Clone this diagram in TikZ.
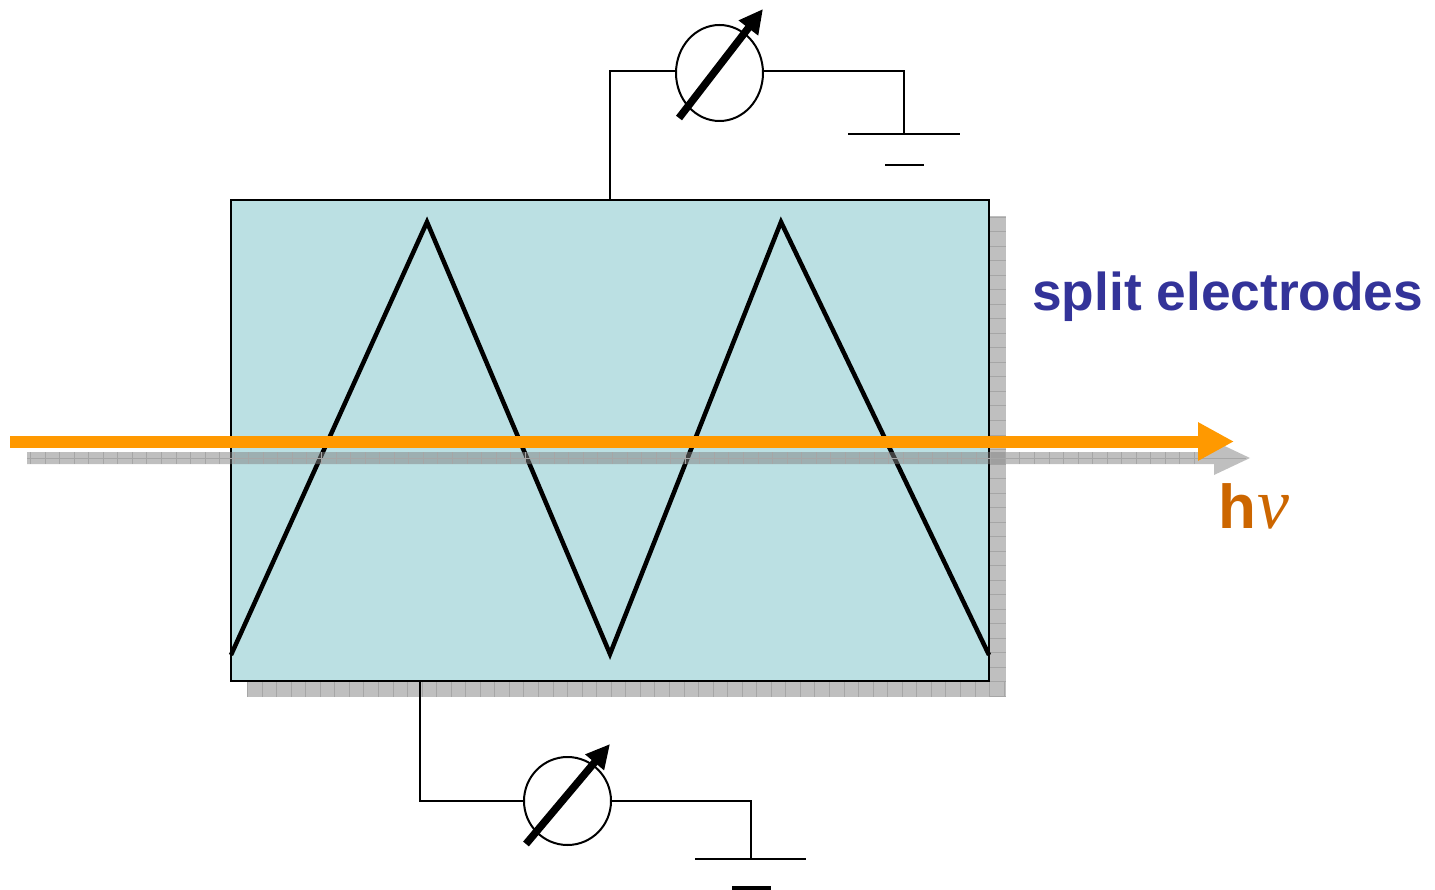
\documentclass[tikz,border=0pt]{standalone}
\usepackage{fontspec}
\setmainfont{Liberation Sans}
\newfontfamily\nufont{Liberation Serif}
\usetikzlibrary{arrows.meta,shapes.geometric}
\definecolor{cellblue}{HTML}{BBE0E3}
\definecolor{shadowgray}{HTML}{BFBFBF}
\definecolor{gridgray}{HTML}{A6A6A6}
\definecolor{beamorange}{HTML}{FF9900}
\definecolor{nuorange}{HTML}{CC6600}
\definecolor{labelblue}{HTML}{333399}
\tikzset{
  x=1pt,y=-1pt,
  wire/.style={draw=black,line width=2pt,line join=miter},
  gnd/.style={draw=black,line width=2pt},
  meter/.style={ellipse,draw=black,line width=2pt,fill=white,inner sep=0pt,minimum width=87pt},
  needle/.style={draw=black,line width=7.5pt,-{Triangle[length=24pt,width=23pt]}},
  gridline/.style={draw=gridgray,line width=1pt},
  zig/.style={draw=black,line width=4.5pt,miter limit=20},
}
\begin{document}
\begin{tikzpicture}
\useasboundingbox (0,0) rectangle (1435,890);
% shadow of the cell
\fill[shadowgray] (247,216) rectangle (1005.5,696.5);
\foreach \y in {217.5,232,...,696} \draw[gridline] (989,\y) -- (1005.5,\y);
\foreach \x in {247.5,262.05,...,1006} \draw[gridline] (\x,681) -- (\x,696.5);
% cell
\node[draw=black,line width=2pt,fill=cellblue,minimum width=758pt,minimum height=480pt,inner sep=0pt,anchor=north west] (cell) at (230,199.5) {};
% zigzag
\coordinate (z0) at (231,655);
\coordinate (z1) at (427,222);
\coordinate (z2) at (610,654);
\coordinate (z3) at (781,222);
\coordinate (z4) at (989,655);
\draw[zig] (z0) -- (z1) -- (z2) -- (z3) -- (z4);
% meters
\node[meter,minimum height=96pt] (m1) at (719.5,73) {};
\node[meter,minimum height=88pt] (m2) at (567.5,801) {};
\coordinate (t1) at (610,201);
\coordinate (c1) at (610,71.5);
\coordinate (c2) at (904,71.5);
\coordinate (g1) at (904,134);
\coordinate (t2) at (420,681);
\coordinate (c3) at (420,801);
\coordinate (c4) at (751,801);
\coordinate (g2) at (751,859);
\draw[wire] (t1) -- (c1) -- (c1 -| m1.west);
\draw[wire] (c2 -| m1.east) -- (c2) -- (g1);
\draw[wire] (t2) -- (c3) -- (m2.west);
\draw[wire] (m2.east) -- (c4) -- (g2);
% ground bars
\coordinate (g1a) at (848,134); \coordinate (g1b) at (960,134);
\coordinate (g1c) at (885,165.5); \coordinate (g1d) at (924,165.5);
\coordinate (g2a) at (695,859); \coordinate (g2b) at (806,859);
\coordinate (g2c) at (732,888); \coordinate (g2d) at (771,888);
\draw[gnd] (g1a) -- (g1b);
\draw[gnd] (g1c) -- (g1d);
\draw[gnd] (g2a) -- (g2b);
\draw[gnd,line width=3.5pt] (g2c) -- (g2d);
% needles
\coordinate (n1a) at (679,118);
\coordinate (n1b) at (763,9);
\coordinate (n2a) at (526,844);
\coordinate (n2b) at (610,744);
\draw[needle] (n1a) -- (n1b);
\draw[needle] (n2a) -- (n2b);
% gray beam shadow
\fill[black!50,opacity=.5] (27,452) -- (1214,452) -- (1214,441) -- (1250,458) -- (1214,475) -- (1214,464) -- (27,464) -- cycle;
\draw[gridline] (27,458) -- (1246,458);
\foreach \x in {30.5,45.05,...,1200} \draw[gridline] (\x,452) -- (\x,464);
% orange beam
\coordinate (b0) at (10,441.5);
\coordinate (b1) at (1234,441.5);
\draw[draw=beamorange,line width=12pt,-{Triangle[length=36pt,width=36pt]}] (b0) -- (b1);
% labels
\node[anchor=base west,inner sep=0pt,text=labelblue] (lab) at (1032,311) {\fontsize{53.3}{60}\selectfont\bfseries split electrodes};
\node[anchor=base west,inner sep=0pt,text=nuorange] (hnu) at (1218,528) {\fontsize{62}{70}\selectfont\bfseries h\kern 1pt{\nufont\mdseries\fontsize{72}{74}\selectfont\itshape ν}};
\end{tikzpicture}
\end{document}
